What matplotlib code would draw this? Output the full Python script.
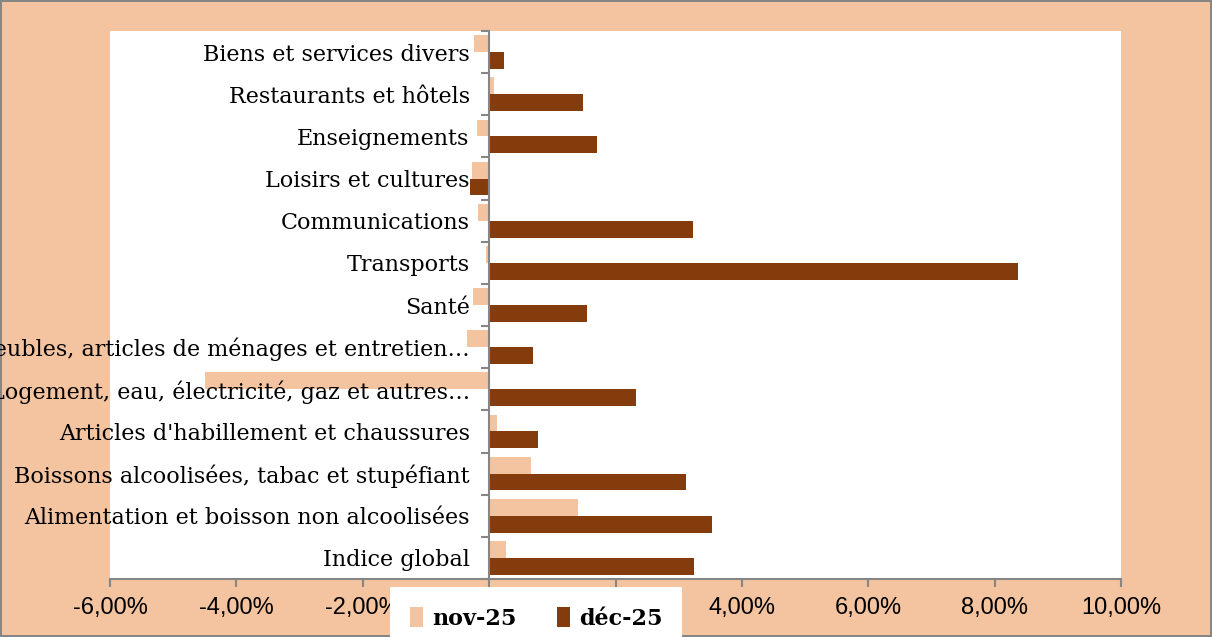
import matplotlib.pyplot as plt
import numpy as np

categories = [
    "Indice global",
    "Alimentation et boisson non alcoolisées",
    "Boissons alcoolisées, tabac et stupéfiant",
    "Articles d'habillement et chaussures",
    "Logement, eau, électricité, gaz et autres…",
    "Meubles, articles de ménages et entretien…",
    "Santé",
    "Transports",
    "Communications",
    "Loisirs et cultures",
    "Enseignements",
    "Restaurants et hôtels",
    "Biens et services divers",
]
nov25 = [0.26, 1.40, 0.66, 0.12, -4.50, -0.35, -0.25, -0.05, -0.18, -0.27, -0.19, 0.08, -0.24]
dec25 = [3.24, 3.53, 3.11, 0.78, 2.32, 0.69, 1.55, 8.37, 3.23, -0.30, 1.70, 1.48, 0.24]
xticks = [-6, -4, -2, 0, 2, 4, 6, 8, 10]

PEACH = "#F4C3A0"
BROWN = "#843C0C"
GREY = "#868686"

fig = plt.figure(figsize=(12.12, 6.37), dpi=100)
fig.patch.set_facecolor(PEACH)
fig.patch.set_edgecolor(GREY)
fig.patch.set_linewidth(1.5)

ax = fig.add_axes([110 / 1212, 58 / 637, 1011 / 1212, 548 / 637])
ax.set_facecolor("white")

y = np.arange(len(categories))
h = 0.4
ax.barh(y + h / 2, nov25, height=h, color=PEACH, label="nov-25")
ax.barh(y - h / 2, dec25, height=h, color=BROWN, label="déc-25")

ax.set_xlim(-6, 10)
ax.set_ylim(-0.5, len(categories) - 0.5)

for s in ["top", "right"]:
    ax.spines[s].set_visible(False)
ax.spines["left"].set_position(("data", 0))
ax.spines["left"].set_color(GREY)
ax.spines["bottom"].set_color(GREY)
ax.spines["left"].set_linewidth(1.5)
ax.spines["bottom"].set_linewidth(1.5)

ax.set_yticks(y)
ax.set_yticklabels(categories, family="DejaVu Serif", fontsize=16)
ax.set_yticks(np.arange(-0.5, len(categories), 1), minor=True)
ax.tick_params(axis="y", which="major", length=0, pad=14)
ax.tick_params(axis="y", which="minor", length=6, color=GREY, width=1.5, direction="out")

ax.set_xticks(xticks)
ax.set_xticklabels(["{:.2f}%".format(v).replace(".", ",") for v in xticks],
                   family="Liberation Sans", fontsize=17)
ax.tick_params(axis="x", length=6, color=GREY, width=1.5, pad=7)

leg = fig.legend(loc="lower left", bbox_to_anchor=(390 / 1212, -0.02), ncol=2,
                 frameon=True, fancybox=False, framealpha=1, edgecolor="white",
                 handlelength=0.6, handleheight=1.0, handletextpad=0.4, columnspacing=1.8,
                 borderpad=0.9, borderaxespad=0,
                 prop={"family": "DejaVu Serif", "weight": "bold", "size": 16})
leg.get_frame().set_linewidth(0)

fig.savefig("out.png", dpi=100, facecolor=fig.get_facecolor(), edgecolor=fig.get_edgecolor())
